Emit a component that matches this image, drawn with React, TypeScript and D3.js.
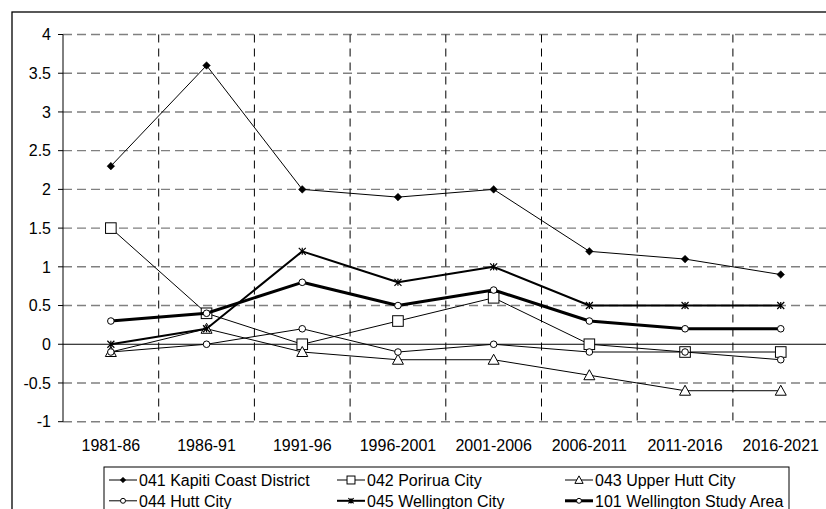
import React from "react";
import * as d3 from "d3";

const categories = ["1981-86", "1986-91", "1991-96", "1996-2001", "2001-2006", "2006-2011", "2011-2016", "2016-2021"];
const kapiti = [2.3, 3.6, 2.0, 1.9, 2.0, 1.2, 1.1, 0.9];
const porirua = [1.5, 0.4, 0.0, 0.3, 0.6, 0.0, -0.1, -0.1];
const upperHutt = [-0.1, 0.2, -0.1, -0.2, -0.2, -0.4, -0.6, -0.6];
const hutt = [-0.1, 0.0, 0.2, -0.1, 0.0, -0.1, -0.1, -0.2];
const wellington = [0.0, 0.2, 1.2, 0.8, 1.0, 0.5, 0.5, 0.5];
const studyArea = [0.3, 0.4, 0.8, 0.5, 0.7, 0.3, 0.2, 0.2];
const yTicks = [-1, -0.5, 0, 0.5, 1, 1.5, 2, 2.5, 3, 3.5, 4];

type Marker = "diamond" | "square" | "triangle" | "circle" | "star";
const series: { name: string; values: number[]; marker: Marker; width: number }[] = [
  { name: "041 Kapiti Coast District", values: kapiti, marker: "diamond", width: 1 },
  { name: "042 Porirua City", values: porirua, marker: "square", width: 1 },
  { name: "043 Upper Hutt City", values: upperHutt, marker: "triangle", width: 1 },
  { name: "044 Hutt City", values: hutt, marker: "circle", width: 1 },
  { name: "045 Wellington City", values: wellington, marker: "star", width: 2 },
  { name: "101 Wellington Study Area", values: studyArea, marker: "circle", width: 3 },
];

const FONT = "'Liberation Sans', Arial, sans-serif";

function MarkerShape({ type, x, y, legend }: { type: Marker; x: number; y: number; legend?: boolean }) {
  const s = legend ? 0.75 : 1;
  switch (type) {
    case "diamond": {
      const r = 3.8 * s;
      return <path d={`M${x},${y - r}L${x + r},${y}L${x},${y + r}L${x - r},${y}Z`} fill="#000" stroke="#000" strokeWidth={0.5} />;
    }
    case "square": {
      const h = 5.3 * s;
      return <rect x={x - h} y={y - h} width={2 * h} height={2 * h} fill="#fff" stroke="#000" strokeWidth={1} />;
    }
    case "triangle": {
      const w = 5.5 * s;
      return <path d={`M${x},${y - 5.5 * s}L${x + w},${y + 4.5 * s}L${x - w},${y + 4.5 * s}Z`} fill="#fff" stroke="#000" strokeWidth={1} />;
    }
    case "circle": {
      return <circle cx={x} cy={y} r={3.3 * s} fill="#fff" stroke="#000" strokeWidth={1} />;
    }
    case "star": {
      const r = 3.5 * s;
      return (
        <g stroke="#000" strokeWidth={1.2} fill="none">
          <path d={`M${x - r},${y - r}L${x + r},${y + r}M${x - r},${y + r}L${x + r},${y - r}M${x},${y - r}L${x},${y + r}`} />
        </g>
      );
    }
  }
}

export default function App() {
  const W = 826;
  const H = 509;
  const left = 63;
  const top = 34.5;
  const bottom = 421.7;
  const band = 95.7;
  const right = left + band * categories.length;

  const x = d3.scaleBand<string>().domain(categories).range([left, right]);
  const y = d3.scaleLinear().domain([-1, 4]).range([bottom, top]);
  const cx = (c: string) => (x(c) as number) + x.bandwidth() / 2;

  const line = d3
    .line<number>()
    .x((_, i) => cx(categories[i]))
    .y((v) => y(v));

  const legendX0 = 104;
  const legendTop = 467;
  const colW = 228;
  const rowY = [480, 500.8];

  return (
    <div style={{ position: "fixed", left: 0, top: 0, width: W, height: H, overflow: "hidden", background: "#fff" }}>
      <svg width={W} height={H} style={{ display: "block" }} fontFamily={FONT}>
        <rect x={0} y={0} width={W} height={H} fill="#fff" />
        {/* outer border */}
        <rect x={12} y={12} width={W + 20} height={H + 20} fill="none" stroke="#000" strokeWidth={1.3} />

        {/* horizontal gridlines */}
        {yTicks.filter((t) => t !== 0).map((t) => (
          <line key={t} x1={left} x2={right} y1={y(t)} y2={y(t)} stroke="#808080" strokeWidth={1.4} strokeDasharray="9,5" />
        ))}
        {/* vertical gridlines */}
        {categories.slice(1).map((c) => (
          <line key={c} x1={x(c) as number} x2={x(c) as number} y1={top} y2={bottom} stroke="#000" strokeWidth={1} strokeDasharray="8,6" />
        ))}
        {/* axes */}
        <line x1={left} x2={left} y1={top} y2={bottom} stroke="#000" strokeWidth={1} />
        <line x1={left} x2={right} y1={y(0)} y2={y(0)} stroke="#000" strokeWidth={1} />
        {yTicks.map((t) => (
          <g key={"yt" + t}>
            <line x1={left - 5} x2={left} y1={y(t)} y2={y(t)} stroke="#000" strokeWidth={1} />
            <text x={51} y={y(t)} dy="0.36em" textAnchor="end" fontSize={16} fill="#000">
              {String(t)}
            </text>
          </g>
        ))}
        {categories.map((c) => (
          <text key={"xt" + c} x={cx(c)} y={451} textAnchor="middle" fontSize={16} fill="#000">
            {c}
          </text>
        ))}

        {/* series */}
        {series.map((s) => (
          <g key={s.name}>
            <path d={line(s.values) || ""} fill="none" stroke="#000" strokeWidth={s.width} strokeLinejoin="round" />
            {s.values.map((v, i) => (
              <MarkerShape key={i} type={s.marker} x={cx(categories[i])} y={y(v)} />
            ))}
          </g>
        ))}

        {/* legend */}
        <rect x={legendX0} y={legendTop} width={789 - legendX0} height={60} fill="#fff" stroke="#000" strokeWidth={1} />
        {series.map((s, i) => {
          const col = i % 3;
          const row = Math.floor(i / 3);
          const lx = legendX0 + 5 + col * colW;
          const ly = rowY[row];
          return (
            <g key={"lg" + s.name}>
              <line x1={lx} x2={lx + 28} y1={ly} y2={ly} stroke="#000" strokeWidth={s.width} />
              <MarkerShape type={s.marker} x={lx + 14} y={ly} legend />
              <text x={lx + 30} y={ly} dy="0.36em" fontSize={16} fill="#000">
                {s.name}
              </text>
            </g>
          );
        })}
      </svg>
    </div>
  );
}
